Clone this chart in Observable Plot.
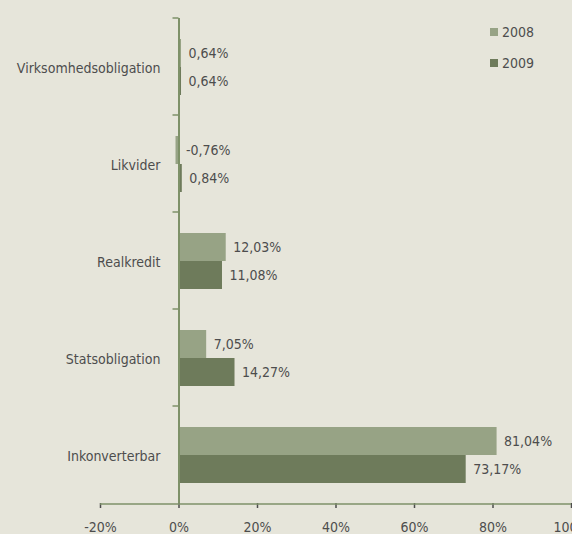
<!DOCTYPE html>
<html>
<head>
<meta charset="utf-8">
<script src="https://cdn.jsdelivr.net/npm/d3@7"></script>
<script src="https://cdn.jsdelivr.net/npm/@observablehq/plot@0.6"></script>
<style>
  html, body { margin: 0; padding: 0; background: #e6e5da; }
  #wrap { position: relative; width: 572px; height: 534px; overflow: hidden; }
  #legend { position: absolute; left: 490px; top: 22px; font-family: "DejaVu Sans Condensed", Roboto, sans-serif; font-size: 14px; color: #4d4d4d; }
  .item { display: flex; align-items: center; height: 20px; margin-bottom: 11px; }
  .sw { width: 8px; height: 8px; margin-right: 4px; }
</style>
</head>
<body>
<div id="wrap"><div id="legend"></div></div>
<script>
const categories = ["Virksomhedsobligation", "Likvider", "Realkredit", "Statsobligation", "Inkonverterbar"];
const years = ["2008", "2009"];
const values2008 = [0.64, -0.76, 12.03, 7.05, 81.04];
const values2009 = [0.64, 0.84, 11.08, 14.27, 73.17];
const xTicks = [-20, 0, 20, 40, 60, 80, 100];
const colors = ["#97a385", "#6e7b5b"];

const axisColor = "#7e9168";
const textColor = "#4d4d4d";
const font = "'DejaVu Sans Condensed', Roboto, sans-serif";

const data = [];
categories.forEach((c, i) => {
  data.push({cat: c, year: years[0], v: values2008[i]});
  data.push({cat: c, year: years[1], v: values2009[i]});
});
const fmt = v => v.toFixed(2).replace(".", ",") + "%";

const chart = Plot.plot({
  width: 572,
  height: 534,
  marginLeft: 100,
  marginRight: 1,
  marginTop: 16,
  marginBottom: 30,
  style: {background: "transparent", fontFamily: font, fontSize: "14px", color: textColor, overflow: "visible"},
  x: {domain: [-20, 100], ticks: xTicks, tickFormat: d => d + "%", label: null, tickSize: 5, tickPadding: 14},
  fy: {domain: categories, padding: 0, label: null, axis: "left", tickSize: 0, tickPadding: -60},
  y: {domain: years, paddingInner: 0, paddingOuter: 0.68, axis: null},
  color: {domain: years, range: colors},
  marks: [
    Plot.barX(data, {fy: "cat", y: "year", x: "v", fill: "year"}),
    Plot.ruleX([0], {stroke: axisColor, strokeWidth: 2}),
    Plot.text(data, {fy: "cat", y: "year", x: d => Math.max(0, d.v), text: d => fmt(d.v), textAnchor: "start", dx: 7, fill: textColor})
  ]
});

d3.select(chart).selectAll("g[aria-label='x-axis tick']").attr("stroke", axisColor).attr("stroke-width", 1.5);
d3.select(chart).selectAll("g[aria-label='fy-axis tick label']").attr("transform", function() {
  const t = this.getAttribute("transform") || "";
  return t + " translate(0,1.5)";
});

const sx = chart.scale("x");
const sfy = chart.scale("fy");
const svg = d3.select(chart);
const gExtra = svg.append("g").attr("stroke", axisColor).attr("stroke-width", 1.5);
const yBottom = 534 - 30;
gExtra.append("line")
  .attr("x1", sx.apply(-20)).attr("x2", sx.apply(100))
  .attr("y1", yBottom).attr("y2", yBottom);
categories.forEach(c => {
  const y0 = sfy.apply(c);
  gExtra.append("line").attr("x1", sx.apply(0) - 6).attr("x2", sx.apply(0)).attr("y1", y0).attr("y2", y0);
});

document.getElementById("wrap").prepend(chart);
chart.style.position = "absolute";
chart.style.left = "0";
chart.style.top = "0";

const legend = d3.select("#legend");
years.forEach((y, i) => {
  const it = legend.append("div").attr("class", "item");
  it.append("div").attr("class", "sw").style("background", colors[i]);
  it.append("span").text(y);
});
</script>
</body>
</html>
